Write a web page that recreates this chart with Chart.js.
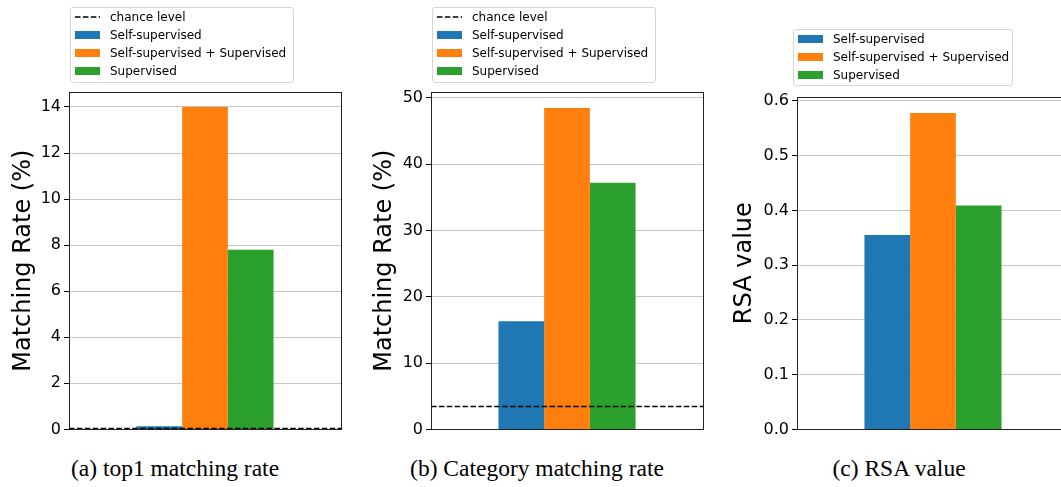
<!DOCTYPE html>
<html>
<head>
<meta charset="utf-8">
<script src="https://cdn.jsdelivr.net/npm/chart.js@4/dist/chart.umd.min.js"></script>
<style>
  html, body { margin: 0; padding: 0; background: #fff; overflow: hidden; }
  #wrap { position: relative; width: 1061px; height: 487px; overflow: hidden; }
  canvas { position: absolute; top: 0; }
  .legend {
    position: absolute; background: rgba(255,255,255,0.8);
    border: 1px solid #d6d6d6; border-radius: 3px;
    font-family: 'DejaVu Sans', sans-serif; font-size: 12px; color: #000;
    box-sizing: border-box; padding: 0 0 0 4px;
  }
  .legend .row { height: 18px; display: flex; align-items: center; white-space: nowrap; }
  .legend .key { width: 25px; height: 8px; margin-right: 10px; flex: none; }
  .legend svg { margin-right: 10px; flex: none; }
  .caption {
    position: absolute; top: 456px; transform: translateX(-50%);
    font-family: 'Liberation Serif', 'Times New Roman', serif; font-size: 23.5px;
    line-height: 24px; white-space: nowrap; color: #000;
  }
</style>
</head>
<body>
<div id="wrap">
  <canvas id="chartTop1" width="350" height="442" style="left:0px"></canvas>
  <canvas id="chartCategory" width="350" height="442" style="left:360px"></canvas>
  <canvas id="chartRsa" width="354" height="442" style="left:720px"></canvas>

  <div class="legend" id="legendTop1" style="left:70px; top:7px; width:224px; height:76px;"></div>
  <div class="legend" id="legendCategory" style="left:432px; top:7px; width:224px; height:76px;"></div>
  <div class="legend" id="legendRsa" style="left:793px; top:29px; width:220px; height:57px;"></div>

  <div class="caption" style="left:175px">(a) top1 matching rate</div>
  <div class="caption" style="left:537px">(b) Category matching rate</div>
  <div class="caption" style="left:899px">(c) RSA value</div>
</div>

<script>
'use strict';

var seriesNames   = ['Self-supervised', 'Self-supervised + Supervised', 'Supervised'];
var top1Rate      = [0.14, 14.0, 7.8];
var categoryRate  = [16.3, 48.5, 37.2];
var rsaValues     = [0.355, 0.578, 0.409];
var chanceTop1     = 0.06;
var chanceCategory = 3.6;
var top1Ticks     = [0, 2, 4, 6, 8, 10, 12, 14];
var categoryTicks = [0, 10, 20, 30, 40, 50];
var rsaTicks      = [0, 0.1, 0.2, 0.3, 0.4, 0.5, 0.6];

var colors = {
  blue   : '#1f77b4',
  orange : '#ff7f0e',
  green  : '#2ca02c',
  grid   : '#c4c4c4',
  frame  : '#222'
};
var barColors = [colors.blue, colors.orange, colors.green];
var fontFamily = "'DejaVu Sans', sans-serif";

// dashed chance line + frame around the plot area, drawn last
var overlayPlugin = {
  id: 'overlay',
  afterDraw: function(chart, args, opts) {
    var ctx = chart.ctx, a = chart.chartArea;
    ctx.save();
    if (opts.chance != null) {
      var y = Math.round(chart.scales.y.getPixelForValue(opts.chance)) + 0.5;
      ctx.strokeStyle = '#000';
      ctx.lineWidth = 1.6;
      ctx.setLineDash([5.5, 2.4]);
      ctx.beginPath();
      ctx.moveTo(a.left, y);
      ctx.lineTo(a.right, y);
      ctx.stroke();
    }
    ctx.setLineDash([]);
    ctx.strokeStyle = colors.frame;
    ctx.lineWidth = 1;
    ctx.strokeRect(Math.round(a.left) + 0.5, Math.round(a.top) + 0.5,
                   Math.round(a.right - a.left), Math.round(a.bottom - a.top));
    ctx.restore();
  }
};

function makePanel(id, values, ticks, yMax, yTitle, chance, decimals, pad, yWidth, titlePad) {
  new Chart(document.getElementById(id), {
    type: 'bar',
    data: {
      labels: [''],
      datasets: seriesNames.map(function(name, i) {
        return {
          label: name,
          data: [values[i]],
          backgroundColor: barColors[i],
          borderWidth: 0,
          categoryPercentage: 0.504,
          barPercentage: 1.0
        };
      })
    },
    options: {
      responsive: false,
      animation: false,
      devicePixelRatio: 1,
      layout: { padding: pad },
      plugins: {
        legend: { display: false },
        tooltip: { enabled: false },
        overlay: { chance: chance }
      },
      scales: {
        x: { display: false },
        y: {
          z: 1,
          min: 0,
          max: yMax,
          afterBuildTicks: function(scale) {
            scale.ticks = ticks.map(function(v) { return { value: v }; });
          },
          afterFit: function(scale) { scale.width = yWidth; },
          grid: {
            display: true,
            color: colors.grid,
            lineWidth: 1,
            drawTicks: true,
            tickLength: 5,
            tickColor: '#000',
            tickWidth: 1
          },
          border: { display: false },
          ticks: {
            color: '#000',
            padding: 3,
            font: { size: 16, family: fontFamily },
            callback: function(v) { return decimals ? v.toFixed(decimals) : String(v); }
          },
          title: {
            display: true,
            text: yTitle,
            color: '#000',
            padding: { top: titlePad, bottom: 0 },
            font: { size: 24, family: fontFamily }
          }
        }
      }
    },
    plugins: [overlayPlugin]
  });
}

makePanel('chartTop1', top1Rate, top1Ticks, 14.65, 'Matching Rate (%)', chanceTop1, 0,
  { top: 92, right: 9, bottom: 0, left: 0 }, 69, 9);
makePanel('chartCategory', categoryRate, categoryTicks, 50.9, 'Matching Rate (%)', chanceCategory, 0,
  { top: 92, right: 7, bottom: 0, left: 0 }, 71, 10);
makePanel('chartRsa', rsaValues, rsaTicks, 0.607, 'RSA value', null, 1,
  { top: 97, right: 5, bottom: 0, left: 0 }, 77, 10);

// legends
function buildLegend(id, withChance) {
  var el = document.getElementById(id);
  var html = '';
  if (withChance) {
    html += '<div class="row"><svg width="25" height="4"><line x1="0" y1="2" x2="25" y2="2" ' +
            'stroke="#000" stroke-width="1.6" stroke-dasharray="5.5,2.4"/></svg>chance level</div>';
  }
  seriesNames.forEach(function(name, i) {
    html += '<div class="row"><span class="key" style="background:' + barColors[i] + '"></span>' + name + '</div>';
  });
  el.innerHTML = html;
}
buildLegend('legendTop1', true);
buildLegend('legendCategory', true);
buildLegend('legendRsa', false);
</script>
</body>
</html>
